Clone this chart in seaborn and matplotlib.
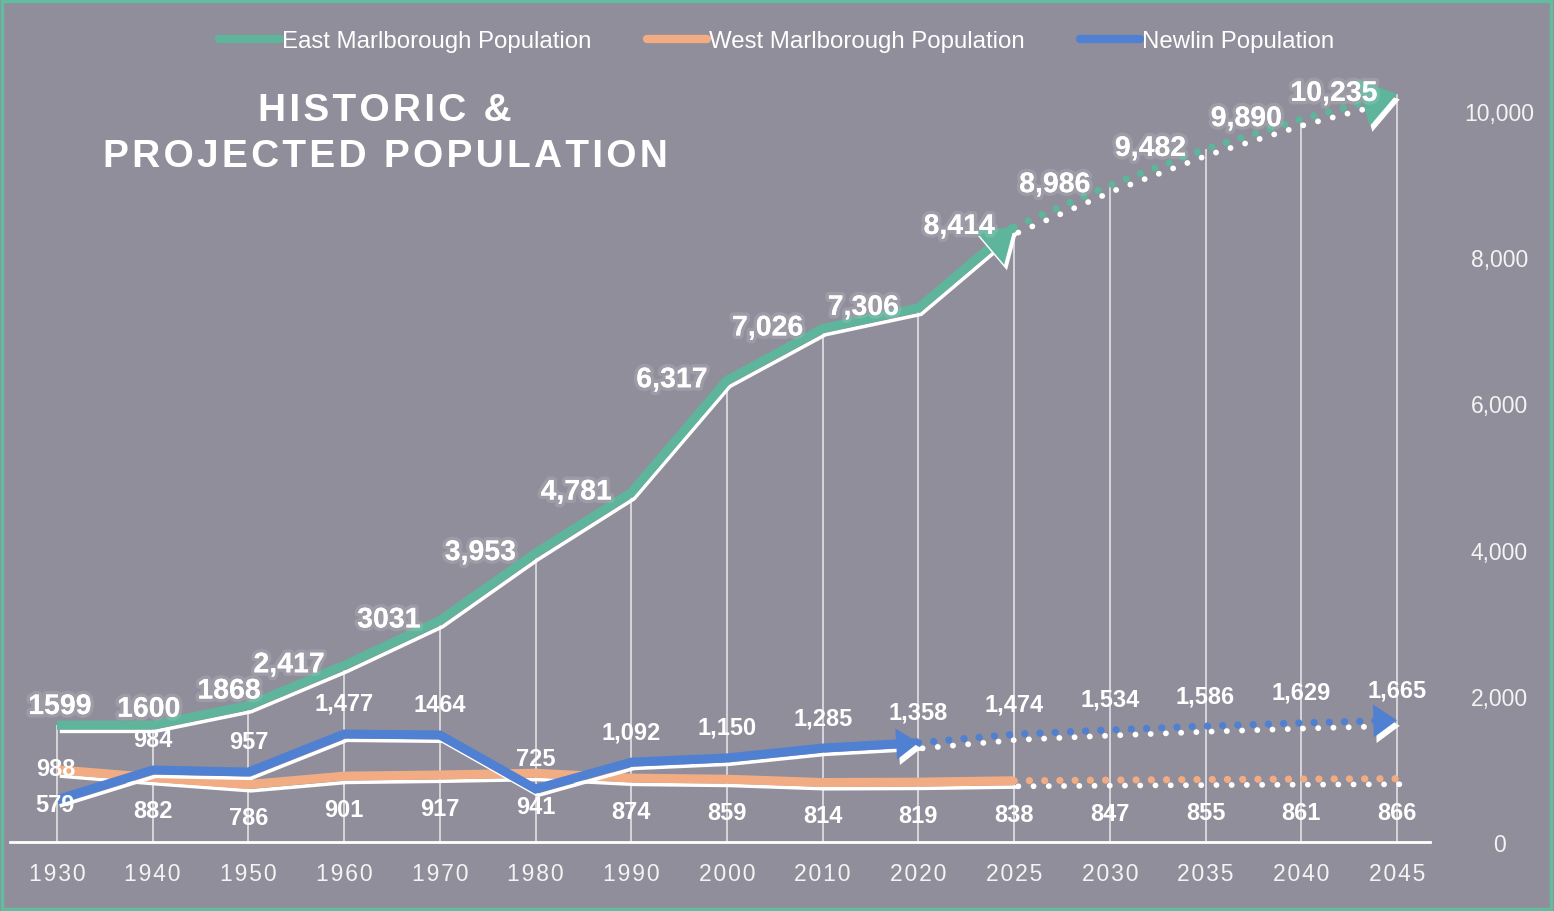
import numpy as np
import pandas as pd
import matplotlib.pyplot as plt
import matplotlib.patheffects as pe
from matplotlib.lines import Line2D
from matplotlib.patches import Rectangle
import seaborn as sns

# data
years = ['1930', '1940', '1950', '1960', '1970', '1980', '1990', '2000',
         '2010', '2020', '2025', '2030', '2035', '2040', '2045']
east = [1599, 1600, 1868, 2417, 3031, 3953, 4781, 6317, 7026, 7306,
        8414, 8986, 9482, 9890, 10235]
west = [988, 882, 786, 901, 917, 941, 874, 859, 814, 819,
        838, 847, 855, 861, 866]
newlin = [579, 984, 957, 1477, 1464, 725, 1092, 1150, 1285, 1358,
          1474, 1534, 1586, 1629, 1665]
east_text = ['1599', '1600', '1868', '2,417', '3031', '3,953', '4,781', '6,317',
             '7,026', '7,306', '8,414', '8,986', '9,482', '9,890', '10,235']
west_text = ['988', '882', '786', '901', '917', '941', '874', '859',
             '814', '819', '838', '847', '855', '861', '866']
newlin_text = ['579', '984', '957', '1,477', '1464', '725', '1,092', '1,150',
               '1,285', '1,358', '1,474', '1,534', '1,586', '1,629', '1,665']
series = ['East Marlborough Population', 'West Marlborough Population', 'Newlin Population']
yticks = [0, 2000, 4000, 6000, 8000, 10000]

BG = '#8f8e9a'
GREEN = '#5fb59b'
ORANGE = '#f2ac84'
BLUE = '#4f80d2'

sns.set_theme(style='white')
plt.rcParams['font.family'] = ['Liberation Sans', 'DejaVu Sans']

df = pd.DataFrame({'pos': np.arange(len(years)), 'year': years,
                   'east': east, 'west': west, 'newlin': newlin})

fig = plt.figure(figsize=(15.54, 9.12), dpi=100, facecolor=BG)
ax = fig.add_axes([10 / 1554, 69 / 912, 1420 / 1554, 804 / 912])
ax.set_facecolor(BG)
ax.set_xlim(-0.491, 14.345)
ax.set_ylim(0, 11000)

# drop lines
ax.vlines(df['pos'], 0, df['east'], colors='white', lw=1.1, alpha=0.8, zorder=1)

solid_fx = [pe.SimpleLineShadow(offset=(2, -4.5), shadow_color='white', alpha=1, linewidth=2.6),
            pe.Normal()]
dot_fx = [pe.SimpleLineShadow(offset=(3, -4), shadow_color='white', alpha=1, linewidth=4.2),
          pe.Normal()]
arrow_fx = [pe.SimplePatchShadow(offset=(2, -4), shadow_rgbFace='white', alpha=1), pe.Normal()]


def arrow(vals, i, col, size, z):
    x0 = i - 0.3
    y0 = vals[i] + (vals[i - 1] - vals[i]) * 0.3
    ax.annotate('', xy=(i, vals[i]), xytext=(x0, y0), zorder=z,
                arrowprops=dict(arrowstyle='-|>,head_length=1.0,head_width=0.7',
                                mutation_scale=size, fc=col, ec=col, lw=0,
                                shrinkA=0, shrinkB=0, path_effects=arrow_fx))


lines = [('west', ORANGE, 10, 2, None), ('newlin', BLUE, 9, 3, (16, 17)), ('east', GREEN, 10, 4, (23, 25))]
for col_name, col, k, z, head in lines:
    hist = df.iloc[:k + 1]
    proj = df.iloc[k:]
    sns.lineplot(data=hist, x='pos', y=col_name, ax=ax, color=col, lw=6.5,
                 solid_joinstyle='miter', solid_capstyle='butt', path_effects=solid_fx, zorder=z)
    sns.lineplot(data=proj, x='pos', y=col_name, ax=ax, color=col, lw=5.2,
                 linestyle=(0, (0.01, 2.1)), dash_capstyle='round', path_effects=dot_fx, zorder=z)
    if head:
        vals = df[col_name].tolist()
        arrow(vals, k, col, head[0], z + 0.5)
        arrow(vals, len(vals) - 1, col, head[1], z + 0.5)

# data labels
glow = [pe.withStroke(linewidth=5, foreground=(0.85, 0.85, 0.88, 0.18))]
for i, (v, t) in enumerate(zip(east, east_text)):
    if i == 0:
        off, ha = (2, 13), 'center'
    elif i == 1:
        off, ha = (-3, 11), 'center'
    elif i == 2:
        off, ha = (-14, 10), 'center'
    else:
        off, ha = (-14, 0), 'right'
    ax.annotate(t, (i, v), xytext=off, textcoords='offset points', ha=ha, va='center',
                fontsize=20.5, weight='bold', color='white', path_effects=glow, zorder=10)

for i, (v, t) in enumerate(zip(newlin, newlin_text)):
    off = (-1.5, -3.5) if i == 0 else (0, 22)
    ax.annotate(t, (i, v), xytext=off, textcoords='offset points', ha='center', va='center',
                fontsize=17, weight='bold', color='white', zorder=10)

for i, (v, t) in enumerate(zip(west, west_text)):
    off = (-1, 1) if i == 0 else (0, -24)
    ax.annotate(t, (i, v), xytext=off, textcoords='offset points', ha='center', va='center',
                fontsize=17, weight='bold', color='white', zorder=10)

# axes styling
sp = '\u200a'
ax.set_xlabel('')
ax.set_ylabel('')
ax.set_xticks(df['pos'])
ax.set_xticklabels([sp.join(y) for y in years], fontsize=16.5, color='#f4f4f4')
ax.tick_params(axis='x', length=0, pad=14.5)
ax.yaxis.tick_right()
ax.set_yticks(yticks)
ax.set_yticklabels([f'{y:,}' for y in yticks], fontsize=16.5, color='#f4f4f4', ha='center')
ax.tick_params(axis='y', length=0, pad=50)
for s in ['top', 'left', 'right']:
    ax.spines[s].set_visible(False)
ax.spines['bottom'].set_color('white')
ax.spines['bottom'].set_linewidth(2)
ax.grid(False)

# legend
handles = [Line2D([], [], color=c, lw=6, solid_capstyle='round') for c in (GREEN, ORANGE, BLUE)]
fig.legend(handles, series, loc='center', bbox_to_anchor=(0.5, 1 - 42 / 912), ncol=3,
           frameon=False, fontsize=17.3, labelcolor='white', handlelength=2.5,
           handletextpad=0.1, columnspacing=2.3)

# title
fig.text(385 / 1554, 1 - 111 / 912, sp.join('HISTORIC &'), ha='center', va='center',
         fontsize=28, weight='bold', color='white')
fig.text(385 / 1554, 1 - 157 / 912, sp.join('PROJECTED POPULATION'), ha='center', va='center',
         fontsize=28, weight='bold', color='white')

fig.patches.append(Rectangle((0.001, 0.002), 0.997, 0.996, transform=fig.transFigure,
                             fill=False, ec='#63bca0', lw=2.5))

fig.savefig('out.png', dpi=100, facecolor=BG)
